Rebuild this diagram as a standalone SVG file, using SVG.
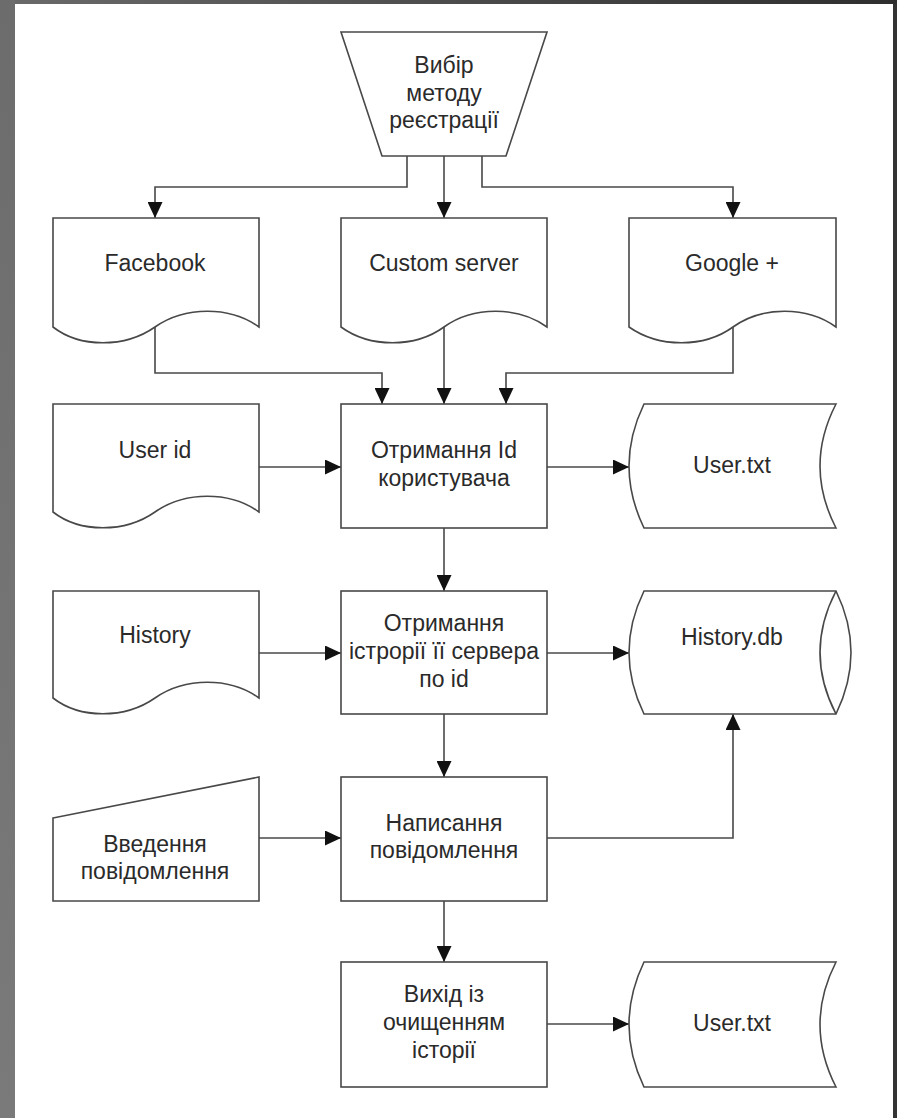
<svg xmlns="http://www.w3.org/2000/svg" width="897" height="1118" viewBox="0 0 897 1118">
<defs>
<linearGradient id="topg" x1="0" y1="0" x2="1" y2="0"><stop offset="0" stop-color="#6a6a6a"/><stop offset="1" stop-color="#2e2e2e"/></linearGradient>
<linearGradient id="leftg" x1="0" y1="0" x2="0" y2="1"><stop offset="0" stop-color="#6c6c6c"/><stop offset="1" stop-color="#7a7a7a"/></linearGradient>
<marker id="ah" viewBox="0 0 16 15" refX="16" refY="7.5" markerWidth="16" markerHeight="15" markerUnits="userSpaceOnUse" orient="auto"><path d="M0,0 L16,7.5 L0,15 Z" fill="#111"/></marker>
<style>
.s{fill:#fff;stroke:#484848;stroke-width:1.6;stroke-linejoin:miter}
.c{fill:none;stroke:#484848;stroke-width:1.6;marker-end:url(#ah)}
text{font-family:"Liberation Sans",Arial,sans-serif;font-size:23px;fill:#2a2a2a;text-anchor:middle}
</style>
</defs>
<rect x="0" y="0" width="897" height="1118" fill="#333"/>
<rect x="0" y="0" width="897" height="4" fill="url(#topg)"/>
<rect x="0" y="0" width="15" height="1118" fill="url(#leftg)"/>
<rect x="15" y="4" width="878" height="1114" fill="#fff"/>

<g id="connectors">
<path class="c" d="M407,156 V187 H155 V218"/>
<path class="c" d="M444,156 V218"/>
<path class="c" d="M482,156 V187 H733 V218"/>
<path class="c" d="M155,327 V373 H382 V404"/>
<path class="c" d="M444,327 V404"/>
<path class="c" d="M733,327 V373 H506 V404"/>
<path class="c" d="M259,467 H341"/>
<path class="c" d="M547,467 H629"/>
<path class="c" d="M444,528 V591"/>
<path class="c" d="M259,653 H341"/>
<path class="c" d="M547,653 H629"/>
<path class="c" d="M444,714 V777"/>
<path class="c" d="M259,838 H341"/>
<path class="c" d="M547,838 H733 V714"/>
<path class="c" d="M444,901 V962"/>
<path class="c" d="M547,1024 H629"/>
</g>

<g id="n-choice">
<path class="s" d="M341,32 H547 L506,156 H382 Z"/>
<text x="444" y="73">Вибір</text>
<text x="444" y="101">методу</text>
<text x="444" y="128">реєстрації</text>
</g>

<g id="n-facebook">
<path class="s" d="M53,218 H259 V327 C230,306 185,306 155,327 C125,348 80,348 53,327 Z"/>
<text x="155" y="271">Facebook</text>
</g>
<g id="n-custom">
<path class="s" d="M341,218 H547 V327 C518,306 473,306 444,327 C415,348 370,348 341,327 Z"/>
<text x="444" y="271">Custom server</text>
</g>
<g id="n-google">
<path class="s" d="M629,218 H836 V327 C807,306 762,306 733,327 C704,348 659,348 629,327 Z"/>
<text x="732" y="271">Google +</text>
</g>

<g id="n-userid">
<path class="s" d="M53,404 H259 V512 C230,491 185,491 155,512 C125,533 80,533 53,512 Z"/>
<text x="155" y="458">User id</text>
</g>
<g id="n-getid">
<rect class="s" x="341" y="404" width="206" height="124"/>
<text x="444" y="458">Отримання Id</text>
<text x="444" y="486">користувача</text>
</g>
<g id="n-usertxt1">
<path class="s" d="M644,404 H836 Q804,466 836,528 H644 Q614,466 644,404 Z"/>
<text x="732" y="473">User.txt</text>
</g>

<g id="n-history">
<path class="s" d="M53,591 H259 V698 C230,677 185,677 155,698 C125,719 80,719 53,698 Z"/>
<text x="155" y="643">History</text>
</g>
<g id="n-gethistory">
<rect class="s" x="341" y="591" width="206" height="123"/>
<text x="444" y="631">Отримання</text>
<text x="444" y="659">істрорії її сервера</text>
<text x="444" y="687">по id</text>
</g>
<g id="n-historydb">
<path class="s" d="M644,591 H836 Q866,652.5 836,714 H644 Q614,652.5 644,591 Z"/>
<path class="s" fill="none" d="M836,591 Q804,652.5 836,714"/>
<text x="732" y="645">History.db</text>
</g>

<g id="n-input">
<path class="s" d="M53,818 L259,777 V901 H53 Z"/>
<text x="155" y="852">Введення</text>
<text x="155" y="879">повідомлення</text>
</g>
<g id="n-write">
<rect class="s" x="341" y="777" width="206" height="124"/>
<text x="444" y="831">Написання</text>
<text x="444" y="858">повідомлення</text>
</g>

<g id="n-exit">
<rect class="s" x="341" y="962" width="206" height="125"/>
<text x="444" y="1002">Вихід із</text>
<text x="444" y="1030">очищенням</text>
<text x="444" y="1058">історії</text>
</g>
<g id="n-usertxt2">
<path class="s" d="M644,962 H836 Q804,1024.5 836,1087 H644 Q614,1024.5 644,962 Z"/>
<text x="732" y="1031">User.txt</text>
</g>
</svg>
